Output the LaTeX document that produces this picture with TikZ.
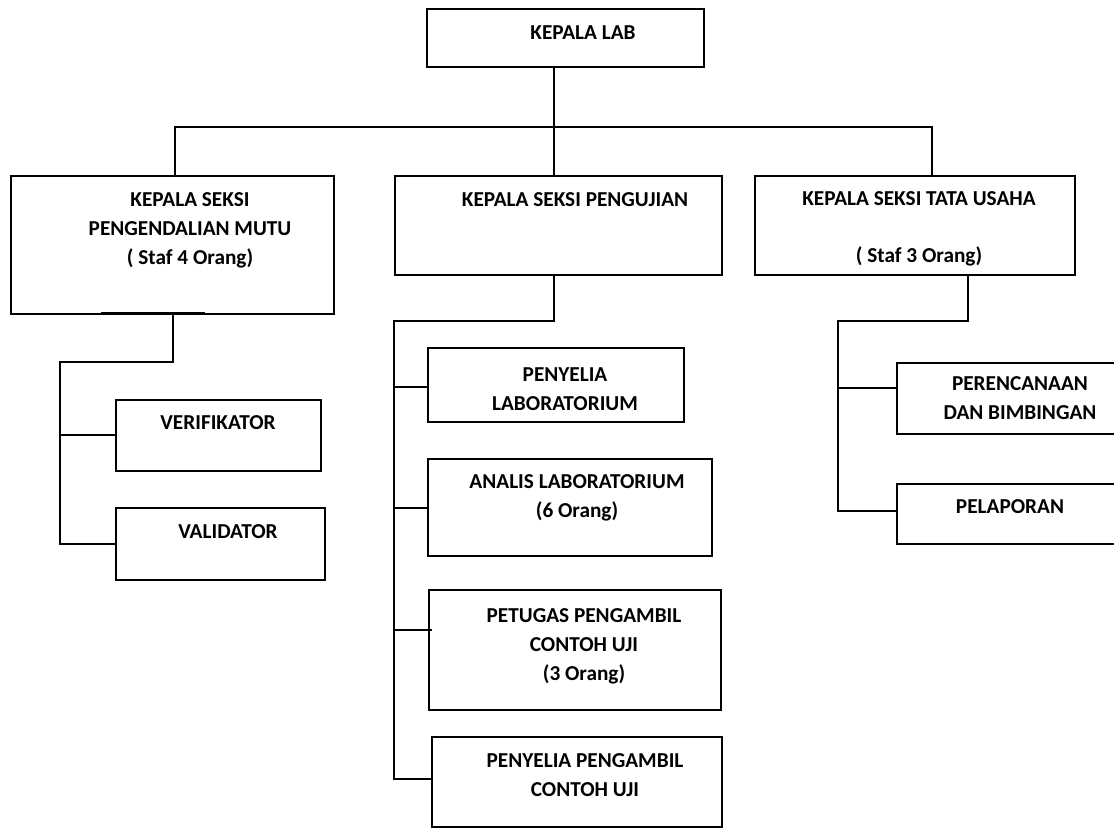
\documentclass[tikz,border=0pt]{standalone}
\usepackage{fontspec}
\setmainfont{Carlito}
\usetikzlibrary{calc}

\begin{document}
\begin{tikzpicture}[x=0.02cm,y=-0.02cm,
  box/.style={draw,line width=1pt,anchor=north west,inner sep=0pt},
  txt/.style={font=\bfseries\fontsize{12.1}{16.5}\selectfont,align=center,inner sep=0pt},
  link/.style={line width=1pt}]
\useasboundingbox (0,0) rectangle (1114,828);
\clip (0,0) rectangle (1114,828);

% boxes
\node[box,minimum width=5.54cm,minimum height=1.16cm] (lab) at (426,8) {};
\node[box,minimum width=6.46cm,minimum height=2.76cm] (pm) at (10,175) {};
\node[box,minimum width=6.54cm,minimum height=1.98cm] (pu) at (394,175) {};
\node[box,minimum width=6.40cm,minimum height=1.98cm] (tu) at (754,175) {};
\node[box,minimum width=4.10cm,minimum height=1.42cm] (ver) at (115,399) {};
\node[box,minimum width=4.18cm,minimum height=1.44cm] (val) at (115,507) {};
\node[box,minimum width=5.12cm,minimum height=1.48cm] (pl) at (427,347) {};
\node[box,minimum width=5.68cm,minimum height=1.94cm] (al) at (427,458) {};
\node[box,minimum width=5.84cm,minimum height=2.40cm] (pc) at (428,589) {};
\node[box,minimum width=5.80cm,minimum height=1.80cm] (pp) at (431,736) {};
\node[box,minimum width=4.80cm,minimum height=1.42cm] (pb) at (896,362) {};
\node[box,minimum width=4.80cm,minimum height=1.20cm] (lap) at (896,483) {};

% texts
\node[txt] (lab-t) at (583,33) {KEPALA LAB};
\node[txt] (pm-t) at (190,230) {KEPALA SEKSI\\PENGENDALIAN MUTU\\( Staf 4 Orang)};
\node[txt] (pu-t) at (575,200) {KEPALA SEKSI PENGUJIAN};
\node[txt] (tu-t) at (919,228.5) {KEPALA SEKSI TATA USAHA\\[16pt]( Staf 3 Orang)};
\node[txt] (ver-t) at (218,423) {VERIFIKATOR};
\node[txt] (val-t) at (228,532) {VALIDATOR};
\node[txt] (pl-t) at (565,389) {PENYELIA\\LABORATORIUM};
\node[txt] (al-t) at (577,497.5) {ANALIS LABORATORIUM\\(6 Orang)};
\node[txt] (pc-t) at (584,646.5) {PETUGAS PENGAMBIL\\CONTOH UJI\\(3 Orang)};
\node[txt] (pp-t) at (585,775) {PENYELIA PENGAMBIL\\CONTOH UJI};
\node[txt] (pb-t) at (1020,398.5) {PERENCANAAN\\DAN BIMBINGAN};
\node[txt] (lap-t) at (1010,507) {PELAPORAN};

% top level
\coordinate (bus) at (554,127);
\coordinate (busL) at (175,127);
\coordinate (busR) at (932,127);
\draw[link] (bus |- lab.south) -- (bus |- pu.north);
\draw[link] (busL |- pm.north) -- (busL) -- (busR) -- (busR |- tu.north);

% pengendalian mutu
\coordinate (pm-bend) at (173,362);
\coordinate (pm-spine) at (60,362);
\draw[link] (101,313) -- (205,313);
\draw[link] (pm-bend |- pm.south) -- (pm-bend) -- (pm-spine) -- (pm-spine |- val.west) -- (val.west);
\draw[link] (pm-spine |- ver.west) -- (ver.west);

% pengujian
\coordinate (pu-bend) at (554,321);
\coordinate (pu-spine) at (394,321);
\draw[link] (pu-bend |- pu.south) -- (pu-bend) -- (pu-spine) -- (pu-spine |- 0,779) -- (pp.west |- 0,779);
\draw[link] (pu-spine |- 0,387) -- (pl.west |- 0,387);
\draw[link] (pu-spine |- 0,508) -- (al.west |- 0,508);
\draw[link] (pu-spine |- 0,630) -- ($(pc.west |- 0,630)+(4,0)$);

% tata usaha
\coordinate (tu-bend) at (968,321);
\coordinate (tu-spine) at (838,321);
\draw[link] (tu-bend |- tu.south) -- (tu-bend) -- (tu-spine) -- (tu-spine |- 0,511) -- (lap.west |- 0,511);
\draw[link] (tu-spine |- 0,388) -- (pb.west |- 0,388);
\end{tikzpicture}
\end{document}
